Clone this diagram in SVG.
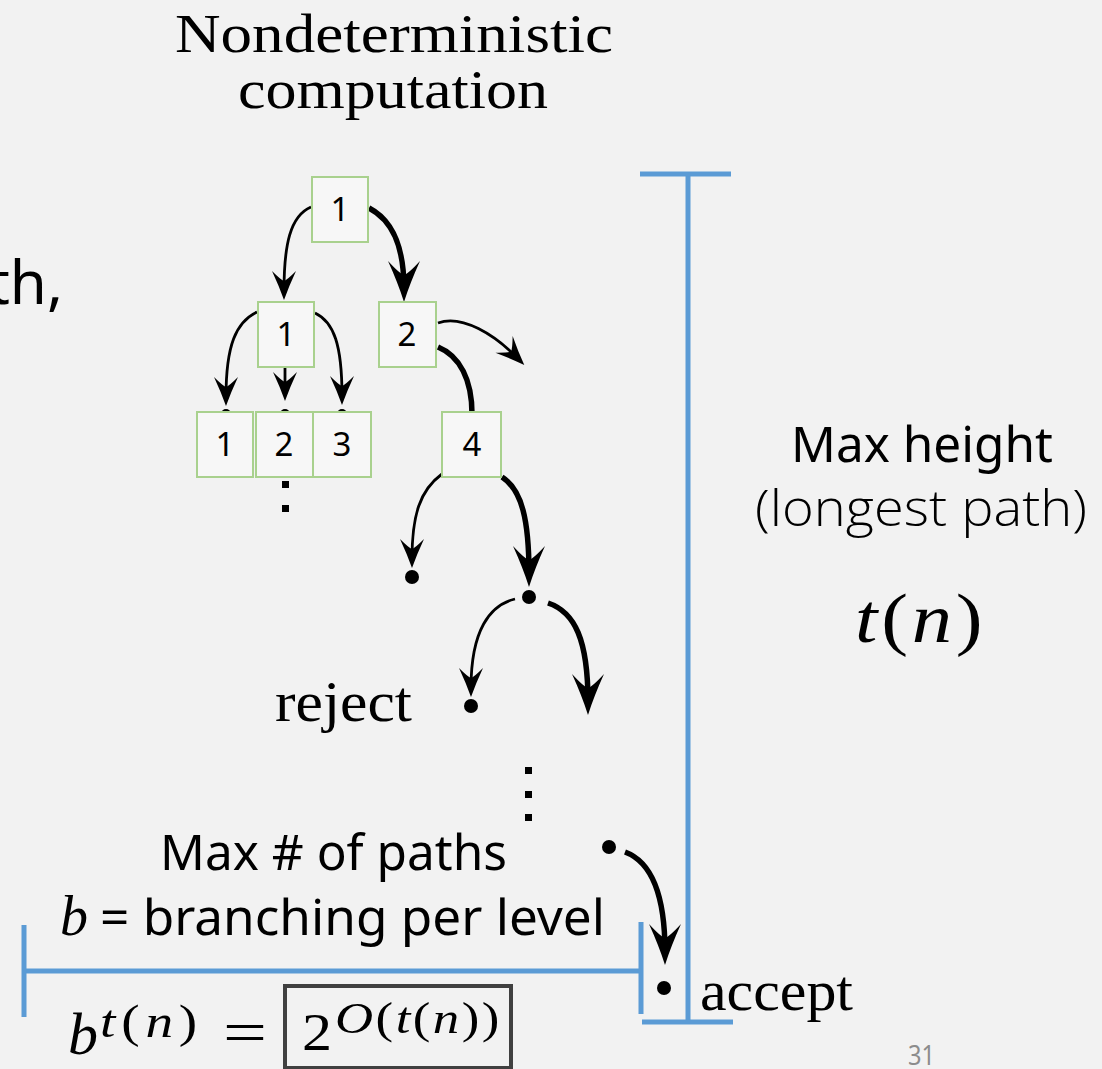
<svg xmlns="http://www.w3.org/2000/svg" width="1102" height="1069" viewBox="0 0 1102 1069">
  <style>
    .sans { font-family: "Noto Sans", "Open Sans", sans-serif; fill: #000; }
    .light { font-family: "Open Sans", "Noto Sans", sans-serif; font-weight: 300; fill: #000; }
    .serif { font-family: "Liberation Serif", "DejaVu Serif", serif; fill: #000; }
    .math { font-family: "Liberation Serif", "DejaVu Serif", serif; fill: #000; }
    .it { font-style: italic; }
    .box { fill: #f7f7f7; stroke: #a9d18e; stroke-width: 2; }
    .lbl { font-family: "Noto Sans", "Open Sans", sans-serif; font-size: 33px; text-anchor: middle; fill: #000; }
    .thin { fill: none; stroke: #000; stroke-width: 2.8; }
    .thick { fill: none; stroke: #000; stroke-width: 5.5; }
    .blue { stroke: #5b9bd5; stroke-width: 5; fill: none; }
    .dot { fill: #000; }
  </style>
  <defs>
    <marker id="ahThin" markerUnits="userSpaceOnUse" markerWidth="40" markerHeight="40" refX="-9" refY="0" orient="auto" overflow="visible">
      <path d="M0,0 Q-14,-5 -29,-12 Q-20,-3 -19,0 Q-20,3 -29,12 Q-14,5 0,0 Z" fill="#000"/>
    </marker>
    <marker id="ahThick" markerUnits="userSpaceOnUse" markerWidth="50" markerHeight="50" refX="-13" refY="0" orient="auto" overflow="visible">
      <path d="M0,0 Q-19,-6 -41,-16 Q-28,-4 -27,0 Q-28,4 -41,16 Q-19,6 0,0 Z" fill="#000"/>
    </marker>
  </defs>

  <rect x="0" y="0" width="1102" height="1069" fill="#f2f2f2"/>

  <!-- Title -->
  <text class="serif" x="394" y="52" font-size="54" text-anchor="middle" textLength="438" lengthAdjust="spacingAndGlyphs">Nondeterministic</text>
  <text class="serif" x="393" y="108" font-size="54" text-anchor="middle" textLength="310" lengthAdjust="spacingAndGlyphs">computation</text>

  <!-- cut-off text at left -->
  <text class="sans" x="63" y="304" font-size="60" text-anchor="end">th,</text>

  <!-- hidden dots behind level-3 boxes -->
  <circle class="dot" cx="226" cy="414" r="5"/>
  <circle class="dot" cx="285" cy="414" r="5"/>
  <circle class="dot" cx="342" cy="414" r="5"/>

  <!-- Connectors -->
  <g id="connectors">
    <path class="thin" d="M311,207 C290,216 284,245 284,291" marker-end="url(#ahThin)"/>
    <path class="thick" d="M369,208 C392,220 404,245 404,289" marker-end="url(#ahThick)"/>
    <path class="thin" d="M257,312 C236,322 226,345 226,397" marker-end="url(#ahThin)"/>
    <path class="thin" d="M285,368 L285,392" marker-end="url(#ahThin)"/>
    <path class="thin" d="M315,313 C334,322 342,345 342,396" marker-end="url(#ahThin)"/>
    <path class="thin" d="M438,323 C462,314 495,335 518,358.6" marker-end="url(#ahThin)"/>
    <path class="thick" d="M438,347 C460,356 472,380 472,414"/>
    <path class="thin" d="M442,474 C420,490 412,515 412,559" marker-end="url(#ahThin)"/>
    <path class="thick" d="M502,477 C522,490 529,520 529,574" marker-end="url(#ahThick)"/>
    <path class="thin" d="M515,599 C490,605 471,630 471,688" marker-end="url(#ahThin)"/>
    <path class="thick" d="M548,603 C575,612 588,640 588,702" marker-end="url(#ahThick)"/>
    <path class="thick" d="M625,852 C652,862 665,895 665,952" marker-end="url(#ahThick)"/>
  </g>

  <!-- Nodes -->
  <g id="n-root"><rect class="box" x="312" y="177" width="56" height="65"/><text class="lbl" x="340" y="221">1</text></g>
  <g id="n-l2-1"><rect class="box" x="258" y="302" width="56" height="65"/><text class="lbl" x="286" y="346">1</text></g>
  <g id="n-l2-2"><rect class="box" x="379" y="302" width="57" height="65"/><text class="lbl" x="407" y="346">2</text></g>
  <g id="n-l3-1"><rect class="box" x="197" y="412" width="56" height="65"/><text class="lbl" x="225" y="456">1</text></g>
  <g id="n-l3-2"><rect class="box" x="256" y="412" width="57" height="65"/><text class="lbl" x="284" y="456">2</text></g>
  <g id="n-l3-3"><rect class="box" x="313" y="412" width="58" height="65"/><text class="lbl" x="342" y="456">3</text></g>
  <g id="n-4"><rect class="box" x="442" y="412" width="59" height="65"/><text class="lbl" x="472" y="456">4</text></g>

  <!-- vertical ellipsis dots -->
  <rect class="dot" x="282" y="481" width="7" height="7"/>
  <rect class="dot" x="282" y="505" width="7" height="7"/>
  <rect class="dot" x="525" y="767" width="7" height="7"/>
  <rect class="dot" x="525" y="791" width="7" height="7"/>
  <rect class="dot" x="525" y="814" width="7" height="7"/>

  <!-- state dots -->
  <g id="n-reject1"><circle class="dot" cx="412" cy="577" r="7"/></g>
  <g id="n-mid"><circle class="dot" cx="529" cy="597" r="7"/></g>
  <g id="n-reject"><circle class="dot" cx="471" cy="706" r="7"/></g>
  <g id="n-pre"><circle class="dot" cx="609" cy="847" r="7"/></g>
  <g id="n-accept"><circle class="dot" cx="664" cy="988" r="7"/></g>

  <text class="serif" x="275" y="721" font-size="56" textLength="137" lengthAdjust="spacingAndGlyphs">reject</text>
  <text class="serif" x="700" y="1010" font-size="56" textLength="153" lengthAdjust="spacingAndGlyphs">accept</text>

  <!-- Blue brackets -->
  <line class="blue" x1="688" y1="174" x2="688" y2="1022"/>
  <line class="blue" x1="640" y1="174" x2="731" y2="174"/>
  <line class="blue" x1="642" y1="1022" x2="733" y2="1022"/>
  <line class="blue" x1="24" y1="971" x2="641" y2="971"/>
  <line class="blue" x1="24" y1="925" x2="24" y2="1017"/>
  <line class="blue" x1="641" y1="922" x2="641" y2="1014"/>

  <!-- Right labels -->
  <text class="sans" x="922" y="462" font-size="50" text-anchor="middle" textLength="262" lengthAdjust="spacingAndGlyphs">Max height</text>
  <text class="light" x="921" y="526" font-size="50" text-anchor="middle" textLength="332" lengthAdjust="spacingAndGlyphs">(longest path)</text>
  <text class="math" transform="translate(855,642) scale(1.15,1)" x="0" y="0" font-size="70" textLength="111" lengthAdjust="spacing"><tspan class="it">t</tspan>(<tspan class="it">n</tspan>)</text>

  <!-- Bottom labels -->
  <text class="sans" x="160" y="870" font-size="50" textLength="347" lengthAdjust="spacingAndGlyphs">Max # of paths</text>
  <text class="math it" x="60" y="935" font-size="56">b</text>
  <text class="sans" x="100" y="935" font-size="50" textLength="505" lengthAdjust="spacingAndGlyphs">= branching per level</text>

  <!-- Formula -->
  <text class="math it" x="68" y="1054" font-size="60">b</text>
  <text class="math" transform="translate(100,1037) scale(1.2,1)" x="0" y="0" font-size="46" textLength="81" lengthAdjust="spacing"><tspan class="it">t</tspan>(<tspan class="it">n</tspan>)</text>
  <text class="math" x="223" y="1052" font-size="60" textLength="44" lengthAdjust="spacingAndGlyphs">=</text>
  <rect x="285" y="986" width="226" height="82" fill="none" stroke="#404040" stroke-width="4"/>
  <text class="math" x="302" y="1050" font-size="52" textLength="30" lengthAdjust="spacingAndGlyphs">2</text>
  <text class="math" transform="translate(335,1033) scale(1.2,1)" x="0" y="0" font-size="44" textLength="137" lengthAdjust="spacing"><tspan class="it">O</tspan>(<tspan class="it">t</tspan>(<tspan class="it">n</tspan>))</text>

  <!-- page number -->
  <text x="908" y="1065" font-family="Noto Sans, Open Sans, sans-serif" font-size="27" fill="#8c8c8c" textLength="27" lengthAdjust="spacingAndGlyphs">31</text>
</svg>
